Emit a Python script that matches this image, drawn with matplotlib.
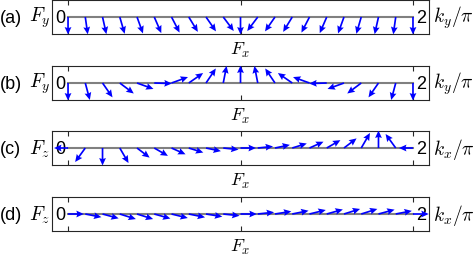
import numpy as np
import matplotlib
matplotlib.use('Agg')
import matplotlib.pyplot as plt

plt.rcParams['font.family'] = ['Liberation Sans', 'DejaVu Sans']
plt.rcParams['mathtext.fontset'] = 'cm'

k_vals = [0.0, 0.1, 0.2, 0.3, 0.4, 0.5, 0.6, 0.7, 0.8, 0.9, 1.0,
          1.1, 1.2, 1.3, 1.4, 1.5, 1.6, 1.7, 1.8, 1.9, 2.0]

# (a) Fx, Fy along ky
a_fx = [0.00, 0.14, 0.22, 0.28, 0.34, 0.40, 0.46, 0.52, 0.57, 0.60, 0.00,
        -0.60, -0.57, -0.52, -0.46, -0.40, -0.34, -0.28, -0.22, -0.14, 0.00]
a_fy = [-1.00, -0.99, -0.98, -0.96, -0.94, -0.92, -0.89, -0.85, -0.82, -0.80, -1.00,
        -0.80, -0.82, -0.85, -0.89, -0.92, -0.94, -0.96, -0.98, -0.99, -1.00]

# (b) Fx, Fy along ky
b_fx = [0.00, 0.26, 0.57, 0.80, 0.94, 1.00, 0.94, 0.82, 0.56, 0.19, 0.00,
        -0.19, -0.56, -0.82, -0.94, -1.00, -0.94, -0.80, -0.57, -0.26, 0.00]
b_fy = [-1.00, -0.97, -0.82, -0.60, -0.34, -0.03, 0.34, 0.57, 0.83, 0.98, 1.00,
        0.98, 0.83, 0.57, 0.34, -0.03, -0.34, -0.60, -0.82, -0.97, -1.00]

# (c) Fx, Fz along kx
c_fx = [-0.80, -0.58, 0.00, 0.50, 0.72, 0.78, 0.80, 0.83, 0.85, 0.87, 0.88,
        0.87, 0.85, 0.83, 0.80, 0.78, 0.72, 0.50, 0.00, -0.58, -0.80]
c_fz = [0.00, -0.80, -1.00, -0.86, -0.55, -0.45, -0.36, -0.26, -0.18, -0.09, 0.00,
        0.09, 0.18, 0.26, 0.36, 0.45, 0.55, 0.86, 1.00, 0.80, 0.00]

# (d) Fx, Fz along kx
d_fx = [0.90, 0.92, 0.92, 0.92, 0.92, 0.92, 0.93, 0.93, 0.93, 0.93, 0.93,
        0.93, 0.93, 0.93, 0.93, 0.92, 0.92, 0.92, 0.92, 0.92, 0.90]
d_fz = [0.00, -0.18, -0.25, -0.29, -0.29, -0.26, -0.23, -0.19, -0.15, -0.10, 0.00,
        0.10, 0.15, 0.19, 0.23, 0.26, 0.29, 0.29, 0.25, 0.18, 0.00]

panel_tags = ['(a)', '(b)', '(c)', '(d)']
left_labels = [r'$F_y$', r'$F_y$', r'$F_z$', r'$F_z$']
right_labels = [r'$k_y/\pi$', r'$k_y/\pi$', r'$k_x/\pi$', r'$k_x/\pi$']
u_list = [a_fx, b_fx, c_fx, d_fx]
v_list = [a_fy, b_fy, c_fz, d_fz]

fig = plt.figure(figsize=(4.74, 2.55), dpi=100)
bottoms = [0.8627, 0.6039, 0.349, 0.0902]

for i in range(4):
    ax = fig.add_axes([0.1097, bottoms[i], 0.7954, 0.1333])
    ax.plot([k_vals[0], k_vals[-1]], [0, 0], color='#808080', lw=1.5, zorder=1)
    ax.quiver(k_vals, np.zeros(len(k_vals)), u_list[i], v_list[i],
              color='blue', angles='uv', scale_units='dots', scale=1/17.5,
              units='dots', width=1.7, headwidth=4.0, headlength=4.4,
              headaxislength=3.9, pivot='tail', zorder=3)
    ax.set_xlim(-0.093, 2.093)
    ax.set_ylim(-1, 1)
    ax.set_xticks([0, 1, 2])
    ax.set_yticks([])
    ax.tick_params(axis='x', direction='in', top=True, bottom=True, length=3.5,
                   width=0.8, color='#262626', labelbottom=False)
    for s in ax.spines.values():
        s.set_color('#262626')
        s.set_linewidth(0.8)

    ax.text(-0.046, 0, '0', fontsize=13, ha='center', va='center', zorder=2)
    ax.text(2.046, 0, '2', fontsize=13, ha='center', va='center', zorder=2)
    ax.text(0.5, -0.16, r'$F_x$', fontsize=13, ha='center', va='top',
            transform=ax.transAxes)
    ax.text(-0.137, 0.5, panel_tags[i], fontsize=13, ha='left', va='center',
            transform=ax.transAxes)
    ax.text(-0.06, 0.5, left_labels[i], fontsize=14, ha='left', va='center',
            transform=ax.transAxes)
    ax.text(1.01, 0.5, right_labels[i], fontsize=14, ha='left', va='center',
            transform=ax.transAxes)

plt.savefig('out.png', dpi=100)
